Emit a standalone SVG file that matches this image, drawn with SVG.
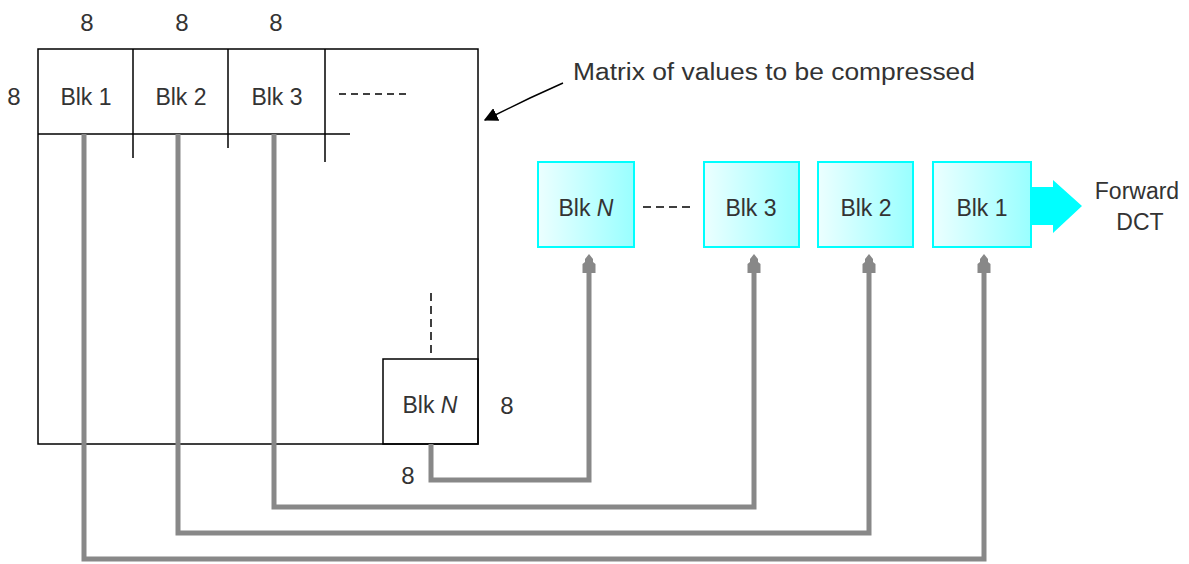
<svg xmlns="http://www.w3.org/2000/svg" width="1189" height="564" viewBox="0 0 1189 564">
<style>
.t{font-family:"Liberation Sans",Arial,sans-serif;font-size:23px;fill:#333;text-anchor:middle}
.n{font-size:24px}
.ln{stroke:#000;stroke-width:1.5;fill:none}
.g{stroke:#888;stroke-width:5;fill:none}
.cb{stroke:#00ffff;stroke-width:2;fill:url(#cg)}
</style>
<defs>
<linearGradient id="cg" x1="0" y1="0" x2="1" y2="0">
<stop offset="0" stop-color="#ecffff"/>
<stop offset="1" stop-color="#99ffff"/>
</linearGradient>
<marker id="ga" viewBox="0 0 20 14" refX="0" refY="7" markerWidth="20" markerHeight="14" markerUnits="userSpaceOnUse" orient="auto">
<path d="M0,0.5 L9,0.5 L11,3 L14,3 L19,7 L14,11 L11,11 L9,13.5 L0,13.5 Z" fill="#888"/>
</marker>
<marker id="ba" viewBox="0 0 10 10" refX="9" refY="5" markerWidth="14" markerHeight="14" markerUnits="userSpaceOnUse" orient="auto">
<path d="M0,0 L10,5 L0,10 Z" fill="#000"/>
</marker>
</defs>

<g id="matrix">
<rect x="38" y="49" width="440" height="395" class="ln"/>
<line x1="38" y1="134" x2="350" y2="134" class="ln"/>
<line x1="133" y1="49" x2="133" y2="158" class="ln"/>
<line x1="228" y1="49" x2="228" y2="148" class="ln"/>
<line x1="325" y1="49" x2="325" y2="162" class="ln"/>
<line x1="339" y1="94" x2="406" y2="94" class="ln" stroke-dasharray="7,5"/>
<line x1="431" y1="293" x2="431" y2="353" class="ln" stroke-dasharray="8,5"/>
<text x="87" y="31" class="t n">8</text>
<text x="182" y="31" class="t n">8</text>
<text x="276" y="31" class="t n">8</text>
<text x="14" y="105" class="t n">8</text>
</g>
<g id="m-blk1"><text x="86" y="105" class="t">Blk 1</text></g>
<g id="m-blk2"><text x="181" y="105" class="t">Blk 2</text></g>
<g id="m-blk3"><text x="277" y="105" class="t">Blk 3</text></g>
<g id="m-blkN">
<rect x="383" y="359" width="95" height="85" class="ln"/>
<text x="430" y="413" class="t">Blk <tspan font-style="italic">N</tspan></text>
<text x="507" y="414" class="t n">8</text>
<text x="408" y="484" class="t n">8</text>
</g>

<g id="annotation">
<text x="573" y="80" class="t" style="text-anchor:start" textLength="402" lengthAdjust="spacingAndGlyphs">Matrix of values to be compressed</text>
<path d="M563,83 L530,98 L485,120" class="ln" stroke-width="1.2" marker-end="url(#ba)"/>
</g>

<g id="q-blkN"><rect x="538" y="162" width="96" height="85" class="cb"/><text x="586" y="216" class="t">Blk <tspan font-style="italic">N</tspan></text></g>
<line x1="643" y1="207" x2="695" y2="207" stroke="#000" stroke-width="1.5" stroke-dasharray="8,5"/>
<g id="q-blk3"><rect x="704" y="162" width="95" height="85" class="cb"/><text x="751" y="216" class="t">Blk 3</text></g>
<g id="q-blk2"><rect x="818" y="162" width="95" height="85" class="cb"/><text x="866" y="216" class="t">Blk 2</text></g>
<g id="q-blk1"><rect x="933" y="162" width="98" height="85" class="cb"/><text x="982" y="216" class="t">Blk 1</text></g>

<g id="dct">
<path d="M1031,187 L1053,187 L1053,180 L1082,206 L1053,233 L1053,225 L1031,225 Z" fill="#00ffff"/>
<text x="1137" y="199" class="t">Forward</text>
<text x="1140" y="230" class="t">DCT</text>
</g>

<g id="connectors">
<path d="M431,444 L431,480 L589,480 L589,273" class="g" marker-end="url(#ga)"/>
<path d="M274,134 L274,507 L754,507 L754,273" class="g" marker-end="url(#ga)"/>
<path d="M178,134 L178,533 L869,533 L869,273" class="g" marker-end="url(#ga)"/>
<path d="M84,134 L84,559 L984,559 L984,273" class="g" marker-end="url(#ga)"/>
</g>
</svg>
